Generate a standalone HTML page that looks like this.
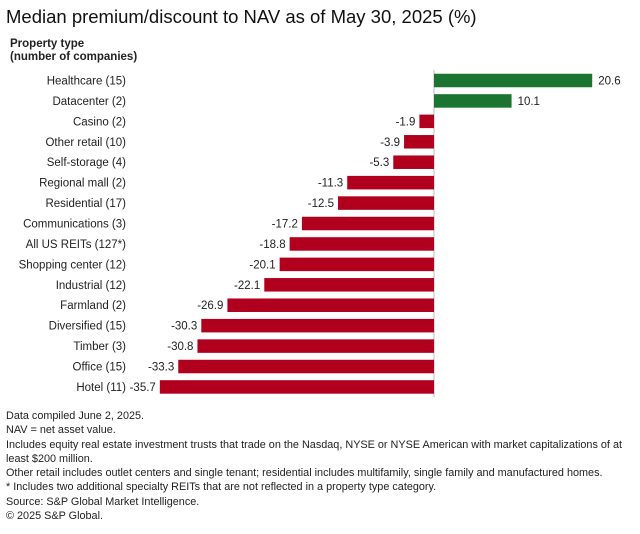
<!DOCTYPE html>
<html><head><meta charset="utf-8"><style>
body{margin:0;background:#fff;font-family:"Liberation Sans",sans-serif;color:#222}
#wrap{position:relative;width:640px;height:534px;overflow:hidden}
.t{position:absolute;white-space:nowrap}
</style></head><body>
<div id="wrap">
<div class="t" style="left:6px;top:6px;font-size:18.5px;color:#111">Median premium/discount to NAV as of May 30, 2025 (%)</div>
<div class="t" style="left:10px;top:38px;font-size:11.5px;font-weight:bold;line-height:13px">Property type<br>(number of companies)</div>
<svg id="chart" width="640" height="400" style="position:absolute;left:0;top:0"></svg>
<div class="t" style="left:6px;top:409px;font-size:10.85px;line-height:14.3px;color:#222">Data compiled June 2, 2025.<br>NAV = net asset value.<br>Includes equity real estate investment trusts that trade on the Nasdaq, NYSE or NYSE American with market capitalizations of at<br>least $200 million.<br>Other retail includes outlet centers and single tenant; residential includes multifamily, single family and manufactured homes.<br>* Includes two additional specialty REITs that are not reflected in a property type category.<br>Source: S&amp;P Global Market Intelligence.<br>© 2025 S&amp;P Global.</div>
</div>
<script>
const categories=["Healthcare (15)","Datacenter (2)","Casino (2)","Other retail (10)","Self-storage (4)","Regional mall (2)","Residential (17)","Communications (3)","All US REITs (127*)","Shopping center (12)","Industrial (12)","Farmland (2)","Diversified (15)","Timber (3)","Office (15)","Hotel (11)"];
const values=[20.6,10.1,-1.9,-3.9,-5.3,-11.3,-12.5,-17.2,-18.8,-20.1,-22.1,-26.9,-30.3,-30.8,-33.3,-35.7];
const labels=["20.6","10.1","-1.9","-3.9","-5.3","-11.3","-12.5","-17.2","-18.8","-20.1","-22.1","-26.9","-30.3","-30.8","-33.3","-35.7"];
const svg=document.getElementById('chart');
const NS="http://www.w3.org/2000/svg";
const x0=434,k=7.68,y0=80.5,step=20.43,bh=13.5;
const xs=v=>x0+v*k;
const ys=i=>y0+i*step;
function mk(t,a){const e=document.createElementNS(NS,t);for(const n in a)e.setAttribute(n,a[n]);svg.appendChild(e);return e;}
const ax=mk('line',{x1:x0,x2:x0,y1:70,y2:397,stroke:'#bbb','stroke-width':1});


values.forEach((v,i)=>{
  const y=ys(i);
  const r=mk('rect',{x:Math.min(xs(v),x0),y:y-bh/2,width:Math.abs(xs(v)-x0),height:bh,fill:v>=0?'#1b7530':'#b0001e'});
  
  
  const c=mk('text',{x:126,y:y+4,'text-anchor':'end','font-size':'11.5',fill:'#222','font-family':'Liberation Sans, sans-serif'});
  c.textContent=categories[i];
  
  
  const l=mk('text',{x:v>=0?xs(v)+6:xs(v)-4,y:y+4,'text-anchor':v>=0?'start':'end','font-size':'11.5',fill:'#222','font-family':'Liberation Sans, sans-serif'});
  l.textContent=labels[i];
  
  
});
</script>
</body></html>
